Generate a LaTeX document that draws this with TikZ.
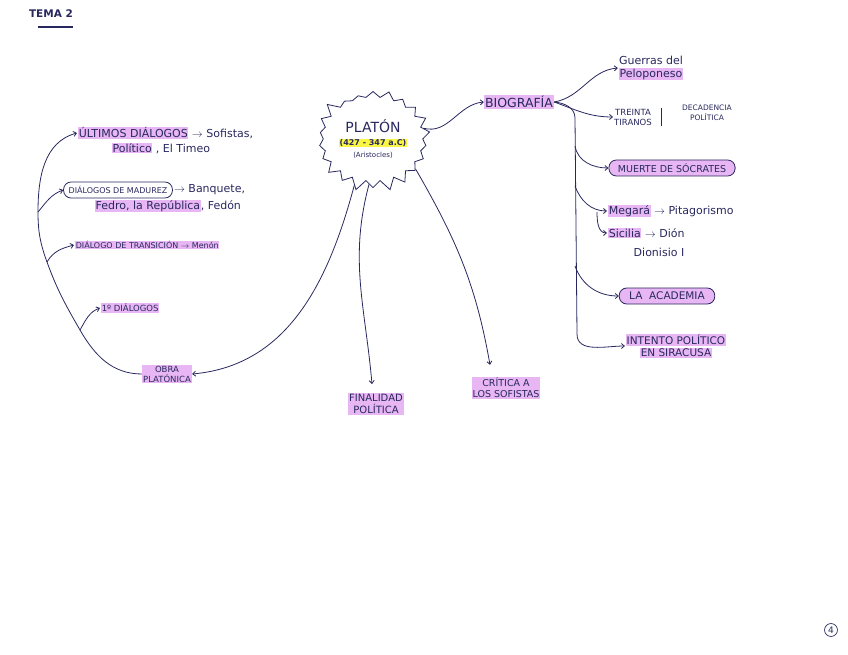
\documentclass[tikz,border=0pt]{standalone}
\usepackage{fontspec}
\setmainfont{DejaVu Sans}
\usetikzlibrary{arrows.meta,shapes.symbols}
\definecolor{ink}{RGB}{40,40,95}
\definecolor{hlpink}{RGB}{232,182,243}
\definecolor{hlyellow}{RGB}{250,246,70}
\newcommand\mrk[1]{{\setlength{\fboxsep}{0.6pt}\colorbox{hlpink}{#1}}}

\begin{document}
\begin{tikzpicture}[x=1pt,y=-1pt,
    txt/.style={text=ink,font=\fontsize{11}{13}\selectfont,inner sep=1pt},
    hl/.style={txt,fill=hlpink},
    oval/.style={draw=ink,line width=0.8pt,rounded corners=7.5pt,inner xsep=5pt,
                 minimum height=16pt,inner ysep=0pt,text=ink},
    con/.style={draw=ink,line width=0.8pt},
    arr/.style={con,-{Straight Barb[length=3pt,width=5pt]}}]
\useasboundingbox (0,0) rectangle (848,655);
\pgfmathsetseed{7}
% titulo
\node[txt,font=\bfseries\fontsize{10.5}{12}\selectfont] (tema) at (51,14) {TEMA 2};
\draw[con,line width=1.2pt] (38,27) -- (73,27);
% centro
\node[starburst,draw=ink,line width=0.8pt,starburst points=22,starburst point height=11pt,
      random starburst=45,align=center,inner sep=1pt,minimum width=118pt,minimum height=106pt,text=ink]
      (platon) at (373,139)
      {{\fontsize{14}{16}\selectfont PLATÓN}\\[1pt]
       {\setlength{\fboxsep}{0.8pt}\colorbox{hlyellow}{\bfseries\fontsize{8}{9}\selectfont (427 - 347 a.C)}}\\
       {\fontsize{7}{8}\selectfont (Aristocles)}};
% biografia
\node[hl,font=\fontsize{12.5}{14}\selectfont] (bio) at (519,102) {BIOGRAFÍA};
\node[txt,align=center] (guerras) at (651,68) {Guerras del\\\mrk{Peloponeso}};
\node[txt,align=center,font=\fontsize{8.5}{10}\selectfont] (treinta) at (633,117) {TREINTA\\TIRANOS};
\node[txt,align=center,font=\fontsize{7.5}{10}\selectfont] (decad) at (707,113) {DECADENCIA\\POLÍTICA};
\node[oval,fill=hlpink,inner xsep=9pt,font=\fontsize{9.5}{10}\selectfont] (muerte) at (672,168) {MUERTE DE SÓCRATES};
\node[txt,anchor=west] (megara) at (607,211) {\mrk{Megará} $\to$ Pitagorismo};
\node[txt,anchor=west] (sicilia) at (607,233) {\mrk{Sicilia} $\to$ Dión};
\node[txt] (dionisio) at (659,252) {Dionisio I};
\node[oval,fill=hlpink,inner xsep=10pt,font=\fontsize{10.5}{12}\selectfont] (academia) at (667,296) {LA\ \ ACADEMIA};
\node[txt,align=center,font=\fontsize{10.5}{12}\selectfont] (intento) at (676,346) {\mrk{INTENTO POLÍTICO}\\\mrk{EN SIRACUSA}};
\coordinate (trunktop) at (575,118);
\coordinate (jm) at (575,146);
\coordinate (jg) at (575,186);
\coordinate (ja) at (575,266);
\coordinate (trunkend) at (577,334);
\coordinate (js) at (597,212);
\draw[arr] (platon.12) to[out=-15,in=185] (bio.west);
\draw[arr] (bio.east) to[out=10,in=185] (guerras.west);
\draw[arr] (bio.east) to[out=-20,in=180] (treinta.west);
\draw[con] ([xshift=8pt]treinta.north east) -- ([xshift=8pt]treinta.south east);
\draw[arr] (bio.east) to[out=-5,in=90] (trunktop) -- (trunkend) to[out=-90,in=180] (intento.west);
\draw[arr] (jm) to[out=-80,in=180] (muerte.west);
\draw[arr] (jg) to[out=-70,in=180] (megara.west);
\draw[arr] (js) to[out=-90,in=180] (sicilia.west);
\draw[arr] (ja) to[out=-70,in=180] (academia.west);
% obra platonica
\node[hl,align=center,font=\fontsize{8.5}{10}\selectfont] (obra) at (167,374) {OBRA\\PLATÓNICA};
\node[txt,anchor=west] (ultimos) at (77,133) {\mrk{ÚLTIMOS DIÁLOGOS} $\to$ Sofistas,};
\node[txt] (ultimosb) at (161,148) {\mrk{Político} , El Timeo};
\node[oval,font=\fontsize{8}{9}\selectfont] (madurez) at (118,190) {DIÁLOGOS DE MADUREZ};
\node[txt,anchor=west] (madurezb) at (madurez.east) {$\to$ Banquete,};
\node[txt] (madurezc) at (168,206) {\mrk{Fedro, la República}, Fedón};
\node[txt,anchor=west,font=\fontsize{8}{9}\selectfont] (transicion) at (74,245) {\mrk{DIÁLOGO DE TRANSICIÓN $\to$ Menón}};
\node[txt,anchor=west,font=\fontsize{8.5}{10}\selectfont] (primeros) at (100,308) {\mrk{1º DIÁLOGOS}};
\coordinate (j1) at (80,330);
\coordinate (j2) at (47,262);
\coordinate (j3) at (38,212);
\draw[arr] (platon.248) to[out=-105,in=5] (obra.east);
\draw[con] (obra.west) to[out=180,in=-60] (j1);
\draw[arr] (j1) to[out=60,in=200] (primeros.west);
\draw[con] (j1) to[out=120,in=-70] (j2);
\draw[arr] (j2) to[out=60,in=195] (transicion.west);
\draw[con] (j2) to[out=110,in=-90] (j3);
\draw[arr] (j3) to[out=50,in=200] (madurez.west);
\draw[arr] (j3) to[out=90,in=195] (ultimos.west);
% finalidad y critica
\node[hl,align=center,font=\fontsize{10}{12}\selectfont] (finalidad) at (376,404) {FINALIDAD\\POLÍTICA};
\node[hl,align=center,font=\fontsize{9.5}{11}\selectfont] (critica) at (506,388) {CRÍTICA A\\LOS SOFISTAS};
\draw[arr] (platon.265) to[out=-105,in=95] ([xshift=-4pt,yshift=9pt]finalidad.north);
\draw[arr] (platon.-35) to[out=-60,in=100] ([xshift=-16pt,yshift=12pt]critica.north);
% pagina
\node[txt,circle,draw=ink,line width=0.7pt,inner sep=1.5pt,font=\fontsize{9}{10}\selectfont] (pag) at (831,630) {4};
\end{tikzpicture}
\end{document}
